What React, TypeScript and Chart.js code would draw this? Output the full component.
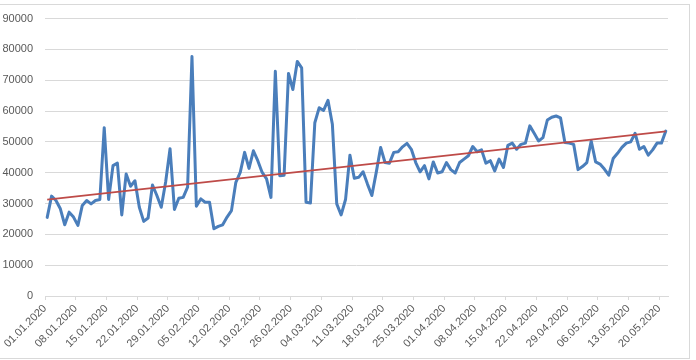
import React, { useEffect, useRef } from "react";
import { Chart, registerables } from "chart.js";

Chart.register(...registerables);

// Daily values 01.01.2020 .. 21.05.2020 (142 days)
const dailyValues: number[] = [
  25500, 32400, 31000, 28300, 23100, 27200, 25600, 22900, 29400, 31000,
  29900, 31000, 31300, 54600, 31300, 42300, 43100, 26300, 39600, 35600,
  37400, 28800, 24200, 25300, 36000, 32600, 28800, 37000, 47800, 28100,
  31700, 32000, 35300, 77700, 29100, 31500, 30400, 30400, 21800, 22600,
  23100, 25600, 27700, 36900, 40100, 46600, 41400, 47100, 43900, 40100,
  38000, 32000, 72900, 39000, 39200, 72200, 67000, 76100, 74000, 30400,
  30200, 56200, 61100, 60200, 63500, 55700, 29900, 26300, 31300, 45700,
  38200, 38500, 40300, 36300, 32600, 40100, 48200, 43300, 43100, 46600,
  46800, 48400, 49500, 47600, 43300, 40300, 42300, 38000, 43500, 39900,
  40300, 43300, 41000, 39900, 43300, 44400, 45500, 48500, 46800, 47400,
  43100, 43900, 40600, 44400, 41700, 48900, 49600, 47600, 49200, 49600,
  55200, 52800, 50300, 51400, 57100, 58000, 58400, 57800, 49800, 49600,
  49200, 41000, 42000, 43300, 50300, 43500, 42800, 41200, 39200, 44600,
  46300, 48200, 49600, 50000, 52800, 47600, 48500, 45700, 47400, 49600,
  49600, 53500,
];

// Linear trendline values at first and last day
const trendValues: number[] = [31300, 53400];

// Tick labels every 7 days
const tickLabels: string[] = [
  "01.01.2020", "08.01.2020", "15.01.2020", "22.01.2020", "29.01.2020",
  "05.02.2020", "12.02.2020", "19.02.2020", "26.02.2020", "04.03.2020",
  "11.03.2020", "18.03.2020", "25.03.2020", "01.04.2020", "08.04.2020",
  "15.04.2020", "22.04.2020", "29.04.2020", "06.05.2020", "13.05.2020",
  "20.05.2020",
];

const yMin = 0;
const yMax = 90000;
const yStep = 10000;

export default function App() {
  const ref = useRef<HTMLCanvasElement | null>(null);

  useEffect(() => {
    if (!ref.current) return;
    const n = dailyValues.length;

    const linePts = dailyValues.map((v, i) => ({ x: i + 0.5, y: v }));
    const trendPts = [
      { x: 0.5, y: trendValues[0] },
      { x: n - 0.5, y: trendValues[1] },
    ];

    const font = { family: "'Liberation Sans', Arial, sans-serif", size: 11 };
    const chart = new Chart(ref.current, {
      type: "line",
      data: {
        datasets: [
          {
            label: "Values",
            data: linePts,
            borderColor: "#4A7EBB",
            borderWidth: 3,
            pointRadius: 0,
            tension: 0,
            borderCapStyle: "round",
            borderJoinStyle: "round",
            order: 2,
          },
          {
            label: "Trend",
            data: trendPts,
            borderColor: "#BE4B48",
            borderWidth: 1.8,
            pointRadius: 0,
            tension: 0,
            order: 1,
          },
        ],
      },
      options: {
        animation: false,
        responsive: false,
        devicePixelRatio: 1,
        layout: { padding: { top: 18, right: 28, bottom: 0, left: 0 } },
        plugins: { legend: { display: false }, tooltip: { enabled: false } },
        scales: {
          x: {
            type: "linear",
            min: 0,
            max: n,
            afterBuildTicks: (scale: any) => {
              const t: any[] = [];
              for (let k = 0; k < tickLabels.length; k++) t.push({ value: k * 7 });
              scale.ticks = t;
            },
            afterFit: (scale: any) => {
              scale.height = 64;
            },
            ticks: {
              autoSkip: false,
              minRotation: 45,
              maxRotation: 45,
              color: "#595959",
              font,
              padding: 2,
              callback: (v: any) => tickLabels[Math.round(Number(v) / 7)] ?? "",
            },
            grid: {
              drawOnChartArea: false,
              drawTicks: true,
              tickLength: 4,
              color: "#D9D9D9",
            },
            border: { display: true, color: "#D9D9D9", width: 1 },
          },
          y: {
            min: yMin,
            max: yMax,
            afterFit: (scale: any) => {
              scale.width = 45;
            },
            ticks: {
              stepSize: yStep,
              color: "#595959",
              font,
              padding: 12,
              callback: (v: any) => String(v),
            },
            grid: { color: "#D9D9D9", drawTicks: false, lineWidth: 1 },
            border: { display: false },
          },
        },
      },
    });
    return () => chart.destroy();
  }, []);

  return (
    <div style={{ position: "absolute", left: 0, top: 0, width: 696, height: 360, background: "#fff" }}>
      <canvas ref={ref} width={696} height={360} style={{ position: "absolute", left: 0, top: 0 }} />
      <div
        style={{
          position: "absolute",
          left: -1,
          top: 4,
          width: 691,
          height: 355,
          border: "1px solid #D9D9D9",
          boxSizing: "border-box",
          pointerEvents: "none",
        }}
      />
    </div>
  );
}
